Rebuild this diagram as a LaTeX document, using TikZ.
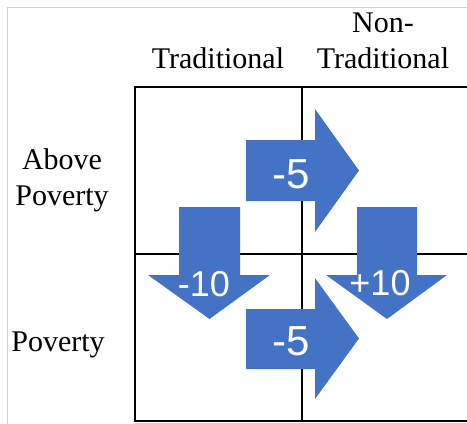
\documentclass[tikz,border=0pt]{standalone}
\usepackage{fontspec}
\setmainfont{Liberation Serif}
\newfontfamily\arrowfont{Liberation Sans}
\definecolor{arrowblue}{HTML}{4472C4}
\definecolor{framegray}{HTML}{D2D2D2}
\begin{document}
\begin{tikzpicture}[x=1pt,y=-1pt,
  gridline/.style={line width=2pt,black},
  framerule/.style={line width=1pt,framegray},
  blockarrow/.style={fill=arrowblue,draw=none},
  heading/.style={inner sep=0pt,anchor=base,align=center,
    font=\fontsize{30}{36}\selectfont},
  bigval/.style={inner sep=0pt,anchor=base,text=white,
    font=\arrowfont\fontsize{42}{42}\selectfont},
  smallval/.style={inner sep=0pt,anchor=base,text=white,
    font=\arrowfont\fontsize{36}{36}\selectfont}]
  \useasboundingbox (0,0) rectangle (467,424);

  % outer frame
  \coordinate (fTL) at (7,7);
  \coordinate (fTR) at (467,7);
  \coordinate (fBL) at (7,424);
  \draw[framerule] (fTR) -- (fTL) -- (fBL);
  \draw[framerule] (135,423.5) -- (467,423.5);

  % 2x2 grid
  \coordinate (gTL) at (135,87);
  \coordinate (gTR) at (468,87);
  \coordinate (gBL) at (135,421);
  \coordinate (gBR) at (468,421);
  \draw[gridline] (gTR) -- (gTL) -- (gBL) -- (gBR);
  \draw[gridline] (302,87) -- (302,421);
  \draw[gridline] (135,254) -- (468,254);

  % headings (base anchor sits on the last line)
  \node[heading] (colA) at (218,68) {Traditional};
  \node[heading] (colB) at (383,68) {Non-\\Traditional};
  \node[heading] (rowA) at (62,205) {Above\\Poverty};
  \node[heading] (rowB) at (58,351) {Poverty};

  % right-pointing block arrows
  \fill[blockarrow] (246,140) -- (315,140) -- (315,109) -- (359,170.5)
    -- (315,232) -- (315,201) -- (246,201) -- cycle;
  \fill[blockarrow] (246,309) -- (315,309) -- (315,278) -- (359,338.5)
    -- (315,399) -- (315,369) -- (246,369) -- cycle;

  % down-pointing block arrows
  \fill[blockarrow] (179,207) -- (240,207) -- (240,275) -- (270,275)
    -- (209.5,319) -- (148,275) -- (179,275) -- cycle;
  \fill[blockarrow] (357,207) -- (417,207) -- (417,275) -- (447,275)
    -- (387,319) -- (326,275) -- (357,275) -- cycle;

  % arrow values
  \node[bigval] (vTop) at (291,188) {-5};
  \node[bigval] (vBot) at (291,355) {-5};
  \node[smallval] (vLeft) at (204,296.5) {-10};
  \node[smallval] (vRight) at (380,295.5) {+10};
\end{tikzpicture}
\end{document}
